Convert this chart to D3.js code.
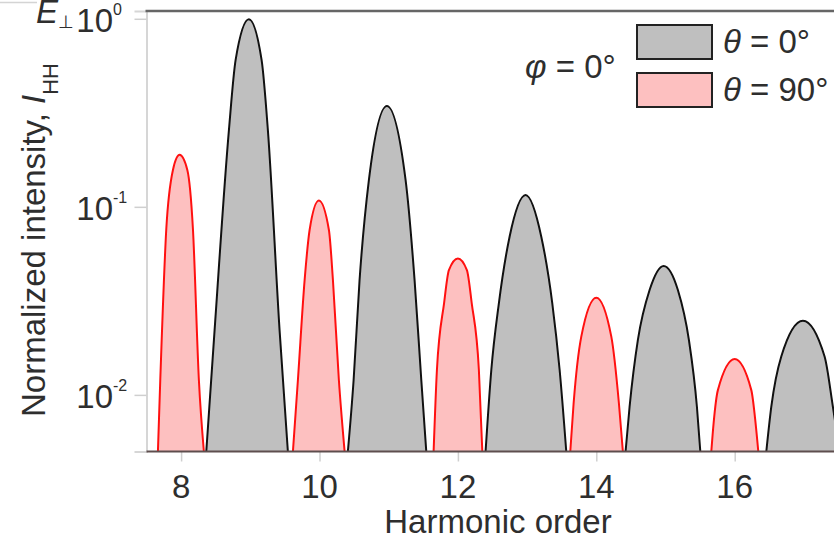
<!DOCTYPE html>
<html>
<head>
<meta charset="utf-8">
<script src="https://cdn.jsdelivr.net/npm/d3@7"></script>
<style>
  html, body { margin: 0; padding: 0; background: #fff; }
  svg { display: block; font-family: "Liberation Sans", Arial, sans-serif; }
</style>
</head>
<body>
<svg id="chart" width="834" height="539"></svg>
<script>
// Harmonic spectra: each peak is a list of [harmonic order, normalized intensity]
// points; both ends sit on the 0.005 floor of the axis.
const theta0Peaks = [
  [[8.364,0.005],[8.484,0.0221],[8.691,0.256],[8.788,0.604],[8.980,0.994],[9.163,0.604],[9.254,0.256],[9.423,0.0221],[9.543,0.005]],
  [[10.410,0.005],[10.493,0.0120],[10.579,0.0408],[10.714,0.139],[10.974,0.344],[11.244,0.139],[11.374,0.0408],[11.471,0.0120],[11.543,0.005]],
  [[12.400,0.005],[12.483,0.0136],[12.592,0.0307],[12.747,0.0694],[12.978,0.1156],[13.205,0.0694],[13.364,0.0307],[13.470,0.0136],[13.566,0.005]],
  [[14.423,0.005],[14.481,0.00865],[14.601,0.0196],[14.770,0.0361],[14.973,0.0485],[15.179,0.0361],[15.338,0.0196],[15.454,0.00865],[15.503,0.005]],
  [[16.457,0.005],[16.529,0.00865],[16.673,0.0160],[16.986,0.0248],[17.299,0.0160],[17.419,0.00865],[17.516,0.005]]
];
const theta90Peaks = [
  [[7.665,0.005],[7.699,0.0120],[7.786,0.0762],[7.882,0.157],[7.978,0.189],[8.090,0.157],[8.171,0.0762],[8.257,0.0120],[8.329,0.005]],
  [[9.616,0.005],[9.688,0.0120],[9.785,0.0408],[9.857,0.0753],[9.991,0.108],[10.136,0.0753],[10.194,0.0408],[10.280,0.0120],[10.363,0.005]],
  [[11.649,0.005],[11.697,0.0136],[11.800,0.0307],[11.870,0.0461],[12.000,0.0532],[12.130,0.0461],[12.200,0.0307],[12.303,0.0136],[12.353,0.005]],
  [[13.624,0.005],[13.672,0.0090],[13.783,0.0204],[14.000,0.0329],[14.217,0.0204],[14.327,0.0090],[14.384,0.005]],
  [[15.662,0.005],[15.695,0.00706],[15.757,0.0106],[16.000,0.0155],[16.240,0.0106],[16.302,0.00706],[16.341,0.005]]
];

const xDomain = [7.5, 17.5];
const yDomain = [0.005, 1.1];
const xTickValues = [8, 10, 12, 14, 16];
const yTickValues = [1, 0.1, 0.01];
const yTickExponents = ["0", "-1", "-2"];

const legendItems = [
  { label: "0°", fill: "#bfbfbf" },
  { label: "90°", fill: "#fdc0c0" }
];

const svg = d3.select("#chart");
const plot = { left: 146.5, right: 838.5, top: 11, bottom: 451.5 };
const textColor = "#2e2e2e";

const x = d3.scaleLinear().domain(xDomain).range([plot.left, plot.right]);
const y = d3.scaleLog().domain(yDomain).range([plot.bottom, plot.top]);

svg.append("defs").append("clipPath").attr("id", "plot-clip")
  .append("rect")
  .attr("x", plot.left).attr("y", plot.top)
  .attr("width", plot.right - plot.left).attr("height", plot.bottom - plot.top);

// fragment of the neighbouring panel frame
svg.append("line").attr("x1", 0).attr("x2", 37).attr("y1", 2.5).attr("y2", 2.5)
  .attr("stroke", "#d4d4d4").attr("stroke-width", 1.5);

const curve = d3.curveMonotoneX;
const area = d3.area().x(d => x(d[0])).y0(plot.bottom).y1(d => y(d[1])).curve(curve);
const line = d3.line().x(d => x(d[0])).y(d => y(d[1])).curve(curve);

const g = svg.append("g").attr("clip-path", "url(#plot-clip)");

function drawPeaks(peaks, fill, stroke) {
  const pg = g.append("g");
  pg.selectAll("path.fill").data(peaks).join("path")
    .attr("class", "fill").attr("d", area).attr("fill", fill).attr("stroke", "none");
  pg.selectAll("path.edge").data(peaks).join("path")
    .attr("class", "edge").attr("d", line).attr("fill", "none")
    .attr("stroke", stroke).attr("stroke-width", 2).attr("stroke-linejoin", "round");
}
drawPeaks(theta0Peaks, legendItems[0].fill, "#111");
drawPeaks(theta90Peaks, legendItems[1].fill, "#ff1010");

// left axis (light gray) with outward decade ticks
const yAxis = d3.axisLeft(y).tickValues(yTickValues).tickSize(12).tickFormat("");
const yg = svg.append("g").attr("transform", `translate(${plot.left},0)`).call(yAxis);
yg.select(".domain").attr("stroke", "#d6d6d6").attr("stroke-width", 2);
yg.selectAll(".tick line").attr("stroke", "#cfcfcf").attr("stroke-width", 1.5);

// bottom axis
const xAxis = d3.axisBottom(x).tickValues(xTickValues).tickSize(10).tickFormat("");
const xg = svg.append("g").attr("transform", `translate(0,${plot.bottom})`).call(xAxis);
xg.select(".domain").remove();
xg.selectAll(".tick line").attr("stroke", "#cfcfcf").attr("stroke-width", 1.5);
svg.append("line").attr("x1", plot.left).attr("x2", 834)
  .attr("y1", plot.bottom).attr("y2", plot.bottom)
  .attr("stroke", "#5e4e4e").attr("stroke-width", 2);

// top frame
svg.append("line").attr("x1", plot.left - 1).attr("x2", 834)
  .attr("y1", plot.top).attr("y2", plot.top)
  .attr("stroke", "#666").attr("stroke-width", 2.5);

// x tick labels
svg.append("g").selectAll("text").data(xTickValues).join("text")
  .attr("x", d => x(d)).attr("y", 498)
  .attr("text-anchor", "middle").attr("font-size", 33).attr("fill", textColor)
  .text(d => d);

// y tick labels: 10 with superscript exponent
const yl = svg.append("g").selectAll("g").data(yTickValues).join("g");
yl.append("text")
  .attr("x", 113).attr("y", d => y(d) + 13)
  .attr("text-anchor", "end").attr("font-size", 33).attr("fill", textColor)
  .text("10");
yl.append("text")
  .attr("x", 113).attr("y", d => y(d) - 4)
  .attr("font-size", 16).attr("fill", textColor)
  .text((d, i) => yTickExponents[i]);

// axis titles
svg.append("text")
  .attr("x", 498).attr("y", 533)
  .attr("text-anchor", "middle").attr("font-size", 33).attr("fill", textColor)
  .text("Harmonic order");

const yt = svg.append("text")
  .attr("transform", "translate(45,417) rotate(-90)")
  .attr("font-size", 33).attr("fill", textColor);
yt.append("tspan").text("Normalized intensity, ");
yt.append("tspan").attr("font-style", "italic").text("I");
yt.append("tspan").attr("font-size", 22).attr("dy", 13).text("HH");

const eLabel = svg.append("text").attr("x", 36).attr("y", 23)
  .attr("font-size", 33).attr("fill", textColor);
eLabel.append("tspan").attr("font-style", "italic").text("E");
eLabel.append("tspan").attr("font-size", 18).attr("dy", 5).text("⊥");

// legend
const phi = svg.append("text").attr("x", 525).attr("y", 78)
  .attr("font-size", 33).attr("fill", textColor);
phi.append("tspan").attr("font-style", "italic").text("φ");
phi.append("tspan").text(" = 0°");

const lg = svg.append("g").selectAll("g").data(legendItems).join("g")
  .attr("transform", (d, i) => `translate(637,${25 + i * 48})`);
lg.append("rect").attr("width", 75).attr("height", 34)
  .attr("fill", d => d.fill).attr("stroke", "#222").attr("stroke-width", 2);
const lt = lg.append("text").attr("x", 86).attr("y", 28)
  .attr("font-size", 33).attr("fill", textColor);
lt.append("tspan").attr("font-style", "italic").text("θ");
lt.append("tspan").text(d => " = " + d.label);
</script>
</body>
</html>
